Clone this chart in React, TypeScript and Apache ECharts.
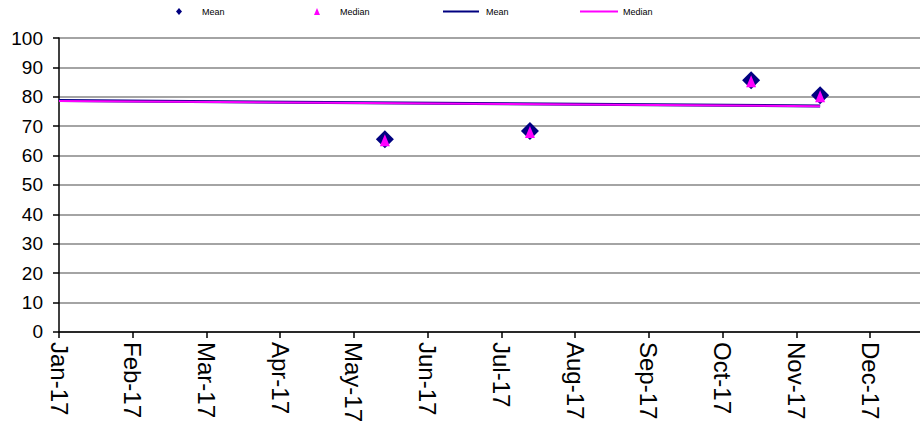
import React, { useEffect, useRef } from "react";
import * as echarts from "echarts";

// ---- data ----
const START = "2017-01-01";
const pointDates = ["2017-05-18", "2017-07-18", "2017-10-19", "2017-11-17"];
const meanValues = [65.6, 68.4, 85.6, 80.5];
const medianValues = [65.6, 68.4, 85.6, 80.5];
const trendDates = ["2017-01-01", "2017-11-17"];
const meanTrend = [78.7, 76.9];
const medianTrend = [78.6, 76.8];
const monthNames = ["Jan", "Feb", "Mar", "Apr", "May", "Jun", "Jul", "Aug", "Sep", "Oct", "Nov", "Dec"];
const yTicks = [0, 100, 10]; // min, max, interval
const xTickDays = 31; // tick spacing in days

const DAY = 86400000;
const startMs = Date.parse(START + "T00:00:00Z");
const dayOf = (s: string) => Math.round((Date.parse(s + "T00:00:00Z") - startMs) / DAY);
const fmtDay = (v: number) => {
  const d = new Date(startMs + v * DAY);
  return monthNames[d.getUTCMonth()] + "-" + String(d.getUTCFullYear()).slice(2);
};

export default function App() {
  const ref = useRef<HTMLDivElement>(null);
  useEffect(() => {
    if (!ref.current) return;
    const chart = echarts.init(ref.current, undefined, { renderer: "svg" });
    const font = "'Liberation Sans', Arial, sans-serif";
    const legendText = (pad: number) => ({
      fontSize: 9,
      fontFamily: font,
      color: "#000",
      padding: [0, 0, 0, pad],
    });
    chart.setOption({
      animation: false,
      backgroundColor: "#fff",
      textStyle: { fontFamily: font },
      legend: [
        {
          data: ["Mean"], left: 176, top: 7, padding: 0, icon: "diamond", itemWidth: 6, itemHeight: 7,
          textStyle: legendText(15),
        },
        {
          data: ["Median"], left: 314, top: 7, padding: 0, icon: "triangle", itemWidth: 6, itemHeight: 7,
          textStyle: legendText(15),
        },
        {
          data: ["Mean "], left: 443, top: 7, padding: 0, icon: "rect", itemWidth: 36, itemHeight: 2,
          formatter: (n: string) => n.trim(), textStyle: legendText(2),
        },
        {
          data: ["Median "], left: 580, top: 7, padding: 0, icon: "rect", itemWidth: 38, itemHeight: 2,
          formatter: (n: string) => n.trim(), textStyle: legendText(0),
        },
      ],
      grid: { left: 59, top: 38, width: 861, height: 295, containLabel: false },
      xAxis: {
        type: "value",
        min: 0,
        max: 362,
        interval: xTickDays,
        axisLine: { show: true, lineStyle: { color: "#000", width: 1.5 } },
        axisTick: { show: true, length: 6, lineStyle: { color: "#000", width: 1.5 } },
        splitLine: { show: false },
        axisLabel: {
          rotate: -90,
          margin: 10,
          fontSize: 24,
          fontFamily: font,
          color: "#000",
          showMaxLabel: false,
          formatter: (v: number) => fmtDay(v),
        },
      },
      yAxis: {
        type: "value",
        min: yTicks[0],
        max: yTicks[1],
        interval: yTicks[2],
        axisLine: { show: true, lineStyle: { color: "#000", width: 1.5 } },
        axisTick: { show: true, length: 6, lineStyle: { color: "#000", width: 1.5 } },
        splitLine: { show: true, lineStyle: { color: "#a4a4a4", width: 2 } },
        axisLabel: { margin: 16, fontSize: 19, fontFamily: font, color: "#000" },
      },
      series: [
        {
          name: "Mean ",
          type: "line",
          data: trendDates.map((d, i) => [dayOf(d), meanTrend[i]]),
          symbol: "none",
          lineStyle: { color: "#000080", width: 3 },
          itemStyle: { color: "#000080" },
          z: 2,
        },
        {
          name: "Median ",
          type: "line",
          data: trendDates.map((d, i) => [dayOf(d), medianTrend[i]]),
          symbol: "none",
          lineStyle: { color: "#ff00ff", width: 2 },
          itemStyle: { color: "#ff00ff" },
          z: 3,
        },
        {
          name: "Mean",
          type: "scatter",
          data: pointDates.map((d, i) => [dayOf(d), meanValues[i]]),
          symbol: "diamond",
          symbolSize: [18, 18],
          itemStyle: { color: "#000080", opacity: 1 },
          z: 4,
        },
        {
          name: "Median",
          type: "scatter",
          data: pointDates.map((d, i) => [dayOf(d), medianValues[i]]),
          symbol: "triangle",
          symbolSize: [10, 12],
          symbolOffset: [0, 1],
          itemStyle: { color: "#ff00ff", opacity: 1 },
          z: 5,
        },
      ],
    });
    return () => chart.dispose();
  }, []);
  return (
    <div
      ref={ref}
      style={{ position: "fixed", left: 0, top: 0, width: 920, height: 425, overflow: "hidden", background: "#fff" }}
    />
  );
}
